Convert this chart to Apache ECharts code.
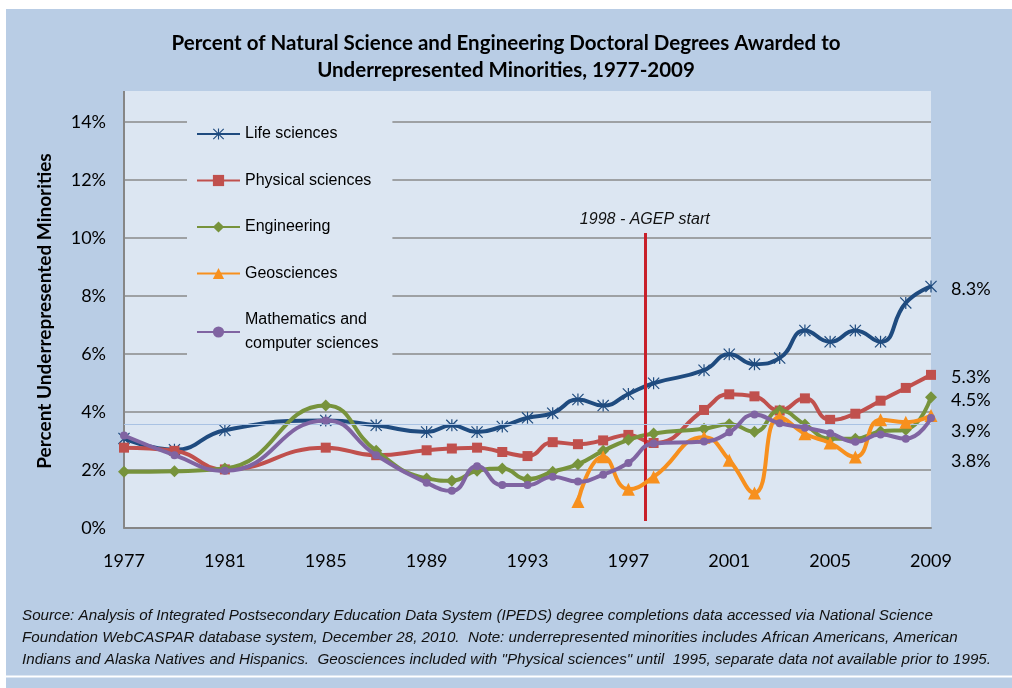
<!DOCTYPE html>
<html>
<head>
<meta charset="utf-8">
<script src="https://cdn.jsdelivr.net/npm/echarts@6/dist/echarts.min.js"></script>
<style>
  html, body { margin: 0; padding: 0; background: #fff; }
  #main { width: 1012px; height: 688px; }
</style>
</head>
<body>
<div id="main"></div>
<script>
// x values are stored as years; the axis counts from START so ticks land on 1977, 1981, ...
var START = 1977;
var years = [1977, 1979, 1981, 1985, 1987, 1989, 1990, 1991, 1992, 1993, 1994, 1995, 1996, 1997, 1998,
  2000, 2001, 2002, 2003, 2004, 2005, 2006, 2007, 2008, 2009];

var lifeSciences = [3.08, 2.69, 3.36, 3.70, 3.53, 3.30, 3.53, 3.30, 3.49, 3.79, 3.95, 4.42, 4.21, 4.61, 4.98,
  5.43, 5.98, 5.64, 5.85, 6.80, 6.41, 6.80, 6.41, 7.75, 8.32];
var physicalSciences = [2.76, 2.65, 2.01, 2.76, 2.50, 2.67, 2.73, 2.76, 2.61, 2.47, 2.95, 2.88, 3.01, 3.20, 2.92,
  4.06, 4.60, 4.53, 4.04, 4.46, 3.72, 3.93, 4.38, 4.82, 5.27];
var engineering = [1.93, 1.95, 2.04, 4.21, 2.65, 1.70, 1.62, 1.96, 2.04, 1.67, 1.93, 2.19, 2.65, 3.03, 3.25,
  3.41, 3.57, 3.31, 4.04, 3.56, 3.07, 3.07, 3.32, 3.38, 4.50];
var geosciences = [null, null, null, null, null, null, null, null, null, null, null, 0.90, 2.45, 1.33, 1.75,
  3.12, 2.33, 1.20, 3.82, 3.24, 2.92, 2.44, 3.72, 3.64, 3.87];
var mathComputer = [3.18, 2.50, 1.96, 3.70, 2.50, 1.55, 1.27, 2.12, 1.47, 1.47, 1.76, 1.59, 1.83, 2.23, 2.90,
  2.97, 3.29, 3.90, 3.60, 3.45, 3.26, 2.96, 3.21, 3.07, 3.78];

var seriesNames = ['Life sciences', 'Physical sciences', 'Engineering', 'Geosciences', 'Mathematics and computer sciences'];
var seriesColors = ['#1f4b7f', '#c0504d', '#77933c', '#f7901e', '#8064a2'];
var endLabelDy = [3, 2, 3, 16, 43];

var agepYear = 1997.65;
var agepText = '1998 - AGEP start';

var starPath = 'path://M9,0L11,0L11,20L9,20Z M0,1.4L1.4,0L20,18.6L18.6,20Z M18.6,0L20,1.4L1.4,20L0,18.6Z';
var symbols = [starPath, 'rect', 'diamond', 'triangle', 'circle'];
var symbolSizes = [12, 10, 12, 13, 8];

function toPoints(vals) {
  var out = [];
  for (var i = 0; i < years.length; i++) {
    if (vals[i] != null) out.push([years[i] - START, vals[i]]);
  }
  return out;
}

var allValues = [lifeSciences, physicalSciences, engineering, geosciences, mathComputer];
var numFont = 'Lato';

var series = allValues.map(function (vals, i) {
  var s = {
    name: seriesNames[i],
    type: 'line',
    smooth: 0.5,
    data: toPoints(vals),
    symbol: symbols[i],
    symbolSize: symbolSizes[i],
    showAllSymbol: true,
    lineStyle: { width: 4, color: seriesColors[i] },
    itemStyle: { color: seriesColors[i] },
    endLabel: {
      show: true,
      formatter: function (p) { return p.value[1].toFixed(1) + '%'; },
      offset: [12, endLabelDy[i]],
      color: '#000',
      fontFamily: numFont,
      fontSize: 18
    },
    emphasis: { disabled: true },
    z: 2 + i
  };
  if (i === 0) {
    s.markLine = {
      silent: true,
      symbol: 'none',
      animation: false,
      data: [
        [
          { coord: [agepYear - START, 10.16], lineStyle: { color: '#c8202a', width: 3, type: 'solid' },
            label: { show: true, position: 'start', formatter: agepText, color: '#111',
              fontFamily: 'Liberation Sans', fontStyle: 'italic', fontSize: 16, distance: 6 } },
          { coord: [agepYear - START, 0.23] }
        ],
        { yAxis: 3.58, lineStyle: { color: '#a9c2e3', width: 1, type: 'solid' }, label: { show: false } }
      ]
    };
  }
  return s;
});

var chart = echarts.init(document.getElementById('main'));
var option = {
  backgroundColor: '#ffffff',
  animation: false,
  title: {
    text: 'Percent of Natural Science and Engineering Doctoral Degrees Awarded to\nUnderrepresented Minorities, 1977-2009',
    left: 'center',
    top: 25,
    textStyle: { fontFamily: 'Lato', fontWeight: 'bold', fontSize: 20.5, lineHeight: 27, color: '#000' }
  },
  legend: {
    orient: 'vertical',
    left: 187,
    top: 118,
    padding: [4, 14, 6, 9],
    itemGap: 22.5,
    itemWidth: 43,
    itemHeight: 14,
    backgroundColor: '#dce6f2',
    data: seriesNames,
    formatter: function (name) {
      return name === seriesNames[4] ? 'Mathematics and\ncomputer sciences' : name;
    },
    textStyle: { fontFamily: 'Liberation Sans', fontSize: 16, color: '#000', lineHeight: 24 }
  },
  grid: { left: 124, right: 81, top: 121.7, bottom: 160.3 },
  xAxis: {
    type: 'value',
    min: 0,
    max: 32,
    interval: 4,
    axisLine: { show: true, lineStyle: { color: '#868686', width: 2 } },
    axisTick: { show: false },
    splitLine: { show: false },
    axisLabel: {
      margin: 24,
      color: '#000',
      fontFamily: numFont,
      fontSize: 18,
      formatter: function (v) { return String(v + START); }
    }
  },
  yAxis: {
    type: 'value',
    min: 0,
    max: 14,
    interval: 2,
    axisLine: { show: false },
    axisTick: { show: false },
    splitLine: { show: true, lineStyle: { color: '#8a8a8a', width: 1.5 } },
    axisLabel: {
      margin: 18,
      color: '#000',
      fontFamily: numFont,
      fontSize: 18,
      formatter: '{value}%'
    }
  },
  graphic: [
    { type: 'rect', z: -20, shape: { x: 6, y: 9, width: 1006, height: 666.5 }, style: { fill: '#b9cde5' } },
    { type: 'rect', z: -20, shape: { x: 6, y: 677.5, width: 1006, height: 11 }, style: { fill: '#b9cde5' } },
    { type: 'rect', z: -19, shape: { x: 124, y: 91, width: 807, height: 437 }, style: { fill: '#dce6f2' } },
    { type: 'line', z: 1, shape: { x1: 124, y1: 91, x2: 124, y2: 528.5 }, style: { stroke: '#868686', lineWidth: 2 } },
    {
      type: 'text', x: 45, y: 311, rotation: Math.PI / 2,
      style: { text: 'Percent Underrepresented Minorities', fill: '#000', font: 'bold 19px Lato',
        textAlign: 'center', textVerticalAlign: 'middle' }
    },
    {
      type: 'text', x: 22, y: 604.5,
      style: {
        text: 'Source: Analysis of Integrated Postsecondary Education Data System (IPEDS) degree completions data accessed via National Science\n' +
          'Foundation WebCASPAR database system, December 28, 2010.  Note: underrepresented minorities includes African Americans, American\n' +
          'Indians and Alaska Natives and Hispanics.  Geosciences included with "Physical sciences" until  1995, separate data not available prior to 1995.',
        fill: '#111', font: 'italic 15.2px "Liberation Sans"', lineHeight: 22.3, textVerticalAlign: 'top'
      }
    }
  ],
  series: series
};
chart.setOption(option);
</script>
</body>
</html>
